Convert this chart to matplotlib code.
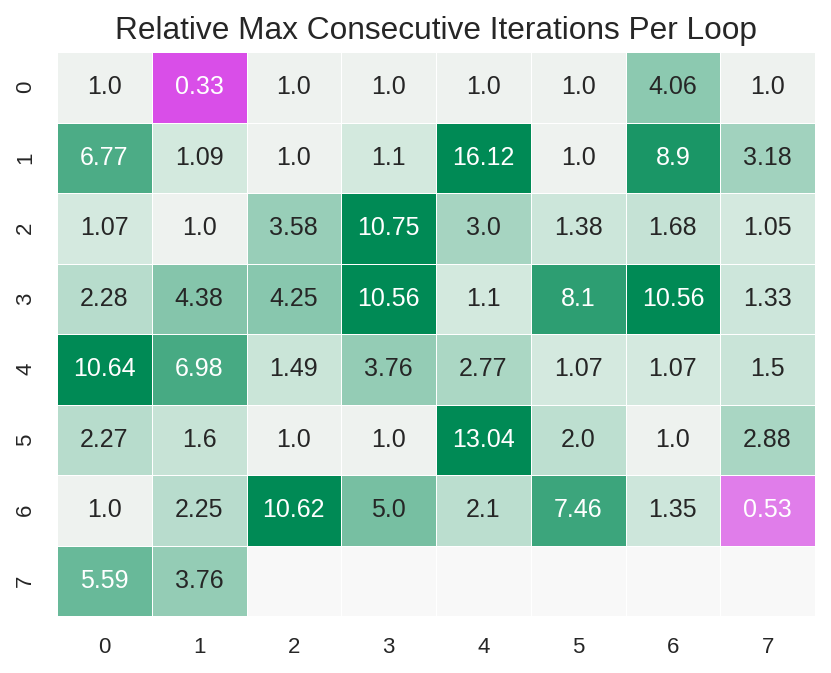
import numpy as np
import matplotlib
matplotlib.use("Agg")
import matplotlib.pyplot as plt
from matplotlib.colors import ListedColormap, TwoSlopeNorm, to_rgb
import seaborn as sns

plt.rcParams["font.family"] = ["Liberation Sans", "DejaVu Sans"]

# Data
row_labels = ["0", "1", "2", "3", "4", "5", "6", "7"]
col_labels = ["0", "1", "2", "3", "4", "5", "6", "7"]
nan = np.nan
row0 = [1.0, 0.33, 1.0, 1.0, 1.0, 1.0, 4.06, 1.0]
row1 = [6.77, 1.09, 1.0, 1.1, 16.12, 1.0, 8.9, 3.18]
row2 = [1.07, 1.0, 3.58, 10.75, 3.0, 1.38, 1.68, 1.05]
row3 = [2.28, 4.38, 4.25, 10.56, 1.1, 8.1, 10.56, 1.33]
row4 = [10.64, 6.98, 1.49, 3.76, 2.77, 1.07, 1.07, 1.5]
row5 = [2.27, 1.6, 1.0, 1.0, 13.04, 2.0, 1.0, 2.88]
row6 = [1.0, 2.25, 10.62, 5.0, 2.1, 7.46, 1.35, 0.53]
row7 = [5.59, 3.76, nan, nan, nan, nan, nan, nan]

values = np.array([row0, row1, row2, row3, row4, row5, row6, row7], dtype=float)
labels = np.array([["" if np.isnan(v) else str(v) for v in r] for r in values])

# magenta below 1, light at exactly 1, green above 1
neg = np.linspace(to_rgb("#d94ee8"), to_rgb("#f0ebf0"), 256)
mid = np.array([to_rgb("#eef2ef")])
pos = np.linspace(to_rgb("#d4e9df"), to_rgb("#008a55"), 255)
cmap = ListedColormap(np.vstack([neg, mid, pos]))
cmap.set_bad("#f8f8f8")
norm = TwoSlopeNorm(vmin=0.33, vcenter=1.0, vmax=10.0)

fig = plt.figure(figsize=(8.31, 6.73), dpi=100)
ax = fig.add_axes([57 / 831, 1 - 616 / 673, 758 / 831, 564 / 673])
sns.heatmap(values, ax=ax, cmap=cmap, norm=norm, annot=labels, fmt="",
            annot_kws={"fontsize": 18}, linewidths=0.5, linecolor="white",
            cbar=False, xticklabels=col_labels, yticklabels=row_labels)

ax.set_title("Relative Max Consecutive Iterations Per Loop", fontsize=22.8,
             color="#262626", pad=9)
ax.tick_params(axis="x", length=0, pad=15, labelsize=16, colors="#262626")
ax.tick_params(axis="y", length=0, pad=15, labelsize=16, colors="#262626")
plt.setp(ax.get_yticklabels(), rotation=90, va="center")

fig.savefig("out.png", dpi=100)
